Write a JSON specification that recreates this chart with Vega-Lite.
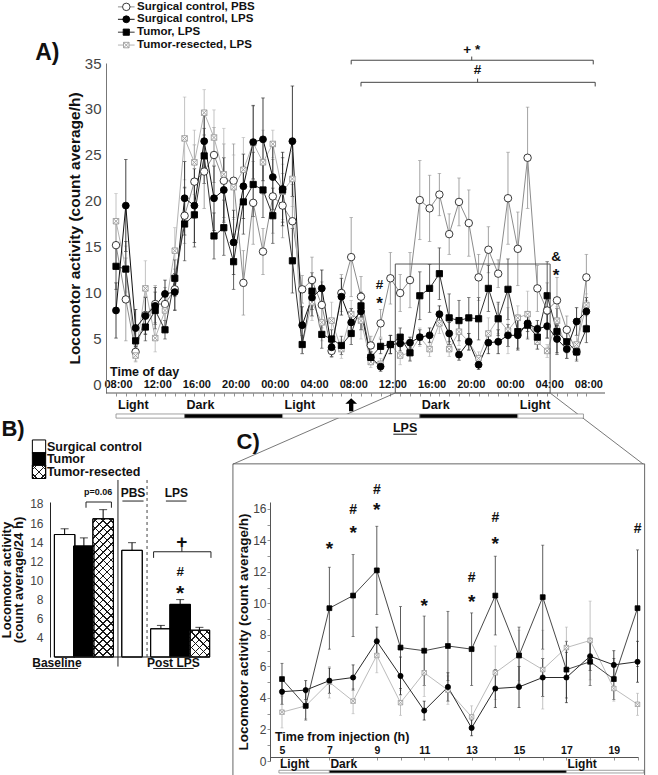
{
"$schema": "https://vega.github.io/schema/vega-lite/v6.json",
"background": "#ffffff",
"padding": 0,
"config": {"view": {"stroke": null}, "font": "Liberation Sans", "axis": {"grid": false, "labelOverlap": false, "tickCount": 100, "format": "d"}},
"bounds": "flush",
"spacing": 109,
"resolve": {"scale": {"size": "independent"}},
"datasets": {
"A": [
{"s":"pbs","h":0,"v":15.2,"e":2.5},{"s":"pbs","h":1,"v":9.3,"e":4.5},{"s":"pbs","h":2,"v":3.6,"e":1.0},{"s":"pbs","h":3,"v":7.6,"e":2.0},{"s":"pbs","h":4,"v":8.8,"e":2.0},{"s":"pbs","h":5,"v":8.8,"e":1.8},{"s":"pbs","h":6,"v":10.4,"e":2.2},{"s":"pbs","h":7,"v":18.4,"e":3.0},{"s":"pbs","h":8,"v":22.1,"e":4.0},{"s":"pbs","h":9,"v":23.2,"e":4.0},{"s":"pbs","h":10,"v":25.0,"e":3.0},{"s":"pbs","h":11,"v":22.2,"e":4.0},{"s":"pbs","h":12,"v":22.2,"e":4.0},{"s":"pbs","h":13,"v":11.1,"e":3.5},{"s":"pbs","h":14,"v":19.8,"e":4.5},{"s":"pbs","h":15,"v":14.5,"e":2.5},{"s":"pbs","h":16,"v":20.5,"e":4.0},{"s":"pbs","h":17,"v":19.5,"e":3.5},{"s":"pbs","h":18,"v":17.8,"e":4.0},{"s":"pbs","h":19,"v":10.4,"e":1.5},{"s":"pbs","h":20,"v":11.4,"e":2.5},{"s":"pbs","h":21,"v":8.7,"e":2.5},{"s":"pbs","h":22,"v":3.7,"e":0.7},{"s":"pbs","h":23,"v":10.0,"e":2.0},{"s":"pbs","h":24,"v":13.9,"e":4.3},{"s":"pbs","h":25,"v":9.6,"e":2.2},{"s":"pbs","h":26,"v":4.3,"e":1.0},{"s":"pbs","h":27,"v":6.7,"e":1.5},{"s":"pbs","h":28,"v":11.6,"e":2.8},{"s":"pbs","h":29,"v":10.0,"e":2.0},{"s":"pbs","h":30,"v":11.4,"e":3.0},{"s":"pbs","h":31,"v":20.1,"e":4.3},{"s":"pbs","h":32,"v":19.2,"e":3.6},{"s":"pbs","h":33,"v":20.7,"e":2.3},{"s":"pbs","h":34,"v":16.4,"e":2.2},{"s":"pbs","h":35,"v":19.9,"e":2.6},{"s":"pbs","h":36,"v":17.6,"e":3.6},{"s":"pbs","h":37,"v":11.7,"e":2.5},{"s":"pbs","h":38,"v":14.7,"e":2.5},{"s":"pbs","h":39,"v":12.1,"e":1.5},{"s":"pbs","h":40,"v":20.3,"e":5.0},{"s":"pbs","h":41,"v":14.8,"e":4.0},{"s":"pbs","h":42,"v":24.7,"e":5.5},{"s":"pbs","h":43,"v":10.5,"e":2.5},{"s":"pbs","h":44,"v":8.1,"e":3.0},{"s":"pbs","h":45,"v":9.2,"e":2.5},{"s":"pbs","h":46,"v":6.0,"e":1.5},{"s":"pbs","h":47,"v":3.6,"e":0.8},{"s":"pbs","h":48,"v":11.7,"e":2.5},
{"s":"rlps","h":0,"v":17.8,"e":3.0},{"s":"rlps","h":1,"v":12.6,"e":2.5},{"s":"rlps","h":2,"v":3.2,"e":0.7},{"s":"rlps","h":3,"v":10.5,"e":3.0},{"s":"rlps","h":4,"v":5.1,"e":1.5},{"s":"rlps","h":5,"v":8.1,"e":2.0},{"s":"rlps","h":6,"v":14.6,"e":2.5},{"s":"rlps","h":7,"v":26.8,"e":4.5},{"s":"rlps","h":8,"v":24.2,"e":3.5},{"s":"rlps","h":9,"v":29.6,"e":2.5},{"s":"rlps","h":10,"v":26.9,"e":3.0},{"s":"rlps","h":11,"v":22.9,"e":5.0},{"s":"rlps","h":12,"v":21.5,"e":3.5},{"s":"rlps","h":13,"v":23.4,"e":3.5},{"s":"rlps","h":14,"v":26.3,"e":4.0},{"s":"rlps","h":15,"v":24.2,"e":3.5},{"s":"rlps","h":16,"v":26.2,"e":1.5},{"s":"rlps","h":17,"v":21.0,"e":3.0},{"s":"rlps","h":18,"v":22.4,"e":3.0},{"s":"rlps","h":19,"v":4.4,"e":1.0},{"s":"rlps","h":20,"v":9.0,"e":2.0},{"s":"rlps","h":21,"v":6.8,"e":2.0},{"s":"rlps","h":22,"v":7.0,"e":2.0},{"s":"rlps","h":23,"v":3.9,"e":1.0},{"s":"rlps","h":24,"v":7.7,"e":1.5},{"s":"rlps","h":25,"v":7.0,"e":2.0},{"s":"rlps","h":26,"v":2.5,"e":0.6},{"s":"rlps","h":27,"v":2.3,"e":0.6},{"s":"rlps","h":28,"v":4.4,"e":1.0},{"s":"rlps","h":29,"v":3.2,"e":1.0},{"s":"rlps","h":30,"v":3.5,"e":0.8},{"s":"rlps","h":31,"v":5.2,"e":1.0},{"s":"rlps","h":32,"v":3.9,"e":0.8},{"s":"rlps","h":33,"v":6.7,"e":1.1},{"s":"rlps","h":34,"v":3.9,"e":0.8},{"s":"rlps","h":35,"v":5.8,"e":1.5},{"s":"rlps","h":36,"v":4.7,"e":0.9},{"s":"rlps","h":37,"v":2.9,"e":0.7},{"s":"rlps","h":38,"v":5.6,"e":1.7},{"s":"rlps","h":39,"v":7.2,"e":1.6},{"s":"rlps","h":40,"v":5.9,"e":2.5},{"s":"rlps","h":41,"v":7.3,"e":1.3},{"s":"rlps","h":42,"v":7.7,"e":2.5},{"s":"rlps","h":43,"v":4.7,"e":0.8},{"s":"rlps","h":44,"v":3.7,"e":0.7},{"s":"rlps","h":45,"v":7.0,"e":1.5},{"s":"rlps","h":46,"v":3.9,"e":1.0},{"s":"rlps","h":47,"v":4.4,"e":1.0},{"s":"rlps","h":48,"v":8.7,"e":1.2},
{"s":"slps","h":0,"v":8.1,"e":3.0},{"s":"slps","h":1,"v":19.5,"e":5.0},{"s":"slps","h":2,"v":6.2,"e":2.0},{"s":"slps","h":3,"v":7.5,"e":2.0},{"s":"slps","h":4,"v":8.6,"e":2.0},{"s":"slps","h":5,"v":9.9,"e":1.5},{"s":"slps","h":6,"v":10.1,"e":2.0},{"s":"slps","h":7,"v":20.3,"e":4.0},{"s":"slps","h":8,"v":19.5,"e":4.0},{"s":"slps","h":9,"v":26.5,"e":3.0},{"s":"slps","h":10,"v":20.3,"e":3.5},{"s":"slps","h":11,"v":21.2,"e":3.5},{"s":"slps","h":12,"v":15.5,"e":3.5},{"s":"slps","h":13,"v":21.6,"e":3.5},{"s":"slps","h":14,"v":26.4,"e":4.0},{"s":"slps","h":15,"v":26.7,"e":4.5},{"s":"slps","h":16,"v":22.6,"e":3.5},{"s":"slps","h":17,"v":21.3,"e":4.0},{"s":"slps","h":18,"v":26.5,"e":6.0},{"s":"slps","h":19,"v":6.5,"e":2.0},{"s":"slps","h":20,"v":9.5,"e":2.0},{"s":"slps","h":21,"v":10.5,"e":2.0},{"s":"slps","h":22,"v":4.1,"e":1.0},{"s":"slps","h":23,"v":9.6,"e":2.0},{"s":"slps","h":24,"v":6.8,"e":1.5},{"s":"slps","h":25,"v":8.0,"e":2.0},{"s":"slps","h":26,"v":3.0,"e":0.6},{"s":"slps","h":27,"v":2.0,"e":0.5},{"s":"slps","h":28,"v":4.4,"e":1.0},{"s":"slps","h":29,"v":4.5,"e":0.8},{"s":"slps","h":30,"v":4.6,"e":0.6},{"s":"slps","h":31,"v":5.2,"e":0.8},{"s":"slps","h":32,"v":5.4,"e":0.8},{"s":"slps","h":33,"v":7.7,"e":0.9},{"s":"slps","h":34,"v":5.6,"e":1.2},{"s":"slps","h":35,"v":3.3,"e":0.6},{"s":"slps","h":36,"v":4.7,"e":0.9},{"s":"slps","h":37,"v":2.2,"e":0.5},{"s":"slps","h":38,"v":4.6,"e":1.2},{"s":"slps","h":39,"v":4.7,"e":1.3},{"s":"slps","h":40,"v":5.4,"e":1.2},{"s":"slps","h":41,"v":5.4,"e":1.6},{"s":"slps","h":42,"v":6.7,"e":0.9},{"s":"slps","h":43,"v":6.1,"e":0.9},{"s":"slps","h":44,"v":6.4,"e":1.3},{"s":"slps","h":45,"v":5.0,"e":1.5},{"s":"slps","h":46,"v":3.9,"e":1.0},{"s":"slps","h":47,"v":6.9,"e":1.5},{"s":"slps","h":48,"v":8.0,"e":1.5},
{"s":"tlps","h":0,"v":12.9,"e":2.5},{"s":"tlps","h":1,"v":12.6,"e":3.0},{"s":"tlps","h":2,"v":4.8,"e":1.0},{"s":"tlps","h":3,"v":6.3,"e":1.5},{"s":"tlps","h":4,"v":8.1,"e":2.0},{"s":"tlps","h":5,"v":6.0,"e":1.0},{"s":"tlps","h":6,"v":11.6,"e":2.0},{"s":"tlps","h":7,"v":17.5,"e":4.0},{"s":"tlps","h":8,"v":18.5,"e":3.5},{"s":"tlps","h":9,"v":24.9,"e":3.0},{"s":"tlps","h":10,"v":16.2,"e":2.5},{"s":"tlps","h":11,"v":17.1,"e":3.0},{"s":"tlps","h":12,"v":13.4,"e":3.0},{"s":"tlps","h":13,"v":19.9,"e":3.5},{"s":"tlps","h":14,"v":21.8,"e":3.5},{"s":"tlps","h":15,"v":21.2,"e":3.0},{"s":"tlps","h":16,"v":18.4,"e":3.0},{"s":"tlps","h":17,"v":21.2,"e":3.5},{"s":"tlps","h":18,"v":13.5,"e":3.5},{"s":"tlps","h":19,"v":4.4,"e":1.0},{"s":"tlps","h":20,"v":10.2,"e":2.0},{"s":"tlps","h":21,"v":5.5,"e":1.5},{"s":"tlps","h":22,"v":5.0,"e":1.0},{"s":"tlps","h":23,"v":4.3,"e":1.0},{"s":"tlps","h":24,"v":5.6,"e":1.2},{"s":"tlps","h":25,"v":8.6,"e":1.5},{"s":"tlps","h":26,"v":3.0,"e":0.6},{"s":"tlps","h":27,"v":4.2,"e":0.8},{"s":"tlps","h":28,"v":4.4,"e":1.0},{"s":"tlps","h":29,"v":5.2,"e":1.0},{"s":"tlps","h":30,"v":3.5,"e":0.9},{"s":"tlps","h":31,"v":9.7,"e":2.6},{"s":"tlps","h":32,"v":10.5,"e":2.6},{"s":"tlps","h":33,"v":12.1,"e":2.8},{"s":"tlps","h":34,"v":7.3,"e":2.6},{"s":"tlps","h":35,"v":7.0,"e":2.2},{"s":"tlps","h":36,"v":7.3,"e":2.2},{"s":"tlps","h":37,"v":7.2,"e":2.3},{"s":"tlps","h":38,"v":10.5,"e":2.5},{"s":"tlps","h":39,"v":7.2,"e":1.8},{"s":"tlps","h":40,"v":10.4,"e":3.3},{"s":"tlps","h":41,"v":5.8,"e":1.8},{"s":"tlps","h":42,"v":6.5,"e":1.5},{"s":"tlps","h":43,"v":5.2,"e":1.3},{"s":"tlps","h":44,"v":9.7,"e":3.7},{"s":"tlps","h":45,"v":5.8,"e":2.5},{"s":"tlps","h":46,"v":4.7,"e":1.2},{"s":"tlps","h":47,"v":3.6,"e":1.0},{"s":"tlps","h":48,"v":6.1,"e":1.5}
],
"C": [
{"s":"rlps","h":5,"v":3.1,"e":1.0},{"s":"rlps","h":6,"v":3.5,"e":0.8},{"s":"rlps","h":7,"v":5.0,"e":1.0},{"s":"rlps","h":8,"v":3.8,"e":0.8},{"s":"rlps","h":9,"v":6.7,"e":1.1},{"s":"rlps","h":10,"v":3.7,"e":0.8},{"s":"rlps","h":11,"v":5.6,"e":1.5},{"s":"rlps","h":12,"v":4.5,"e":0.9},{"s":"rlps","h":13,"v":2.8,"e":0.7},{"s":"rlps","h":14,"v":5.6,"e":1.7},{"s":"rlps","h":15,"v":6.7,"e":1.6},{"s":"rlps","h":16,"v":5.8,"e":2.5},{"s":"rlps","h":17,"v":7.2,"e":1.3},{"s":"rlps","h":18,"v":7.65,"e":2.5},{"s":"rlps","h":19,"v":4.6,"e":0.8},{"s":"rlps","h":20,"v":3.6,"e":0.7},
{"s":"slps","h":5,"v":4.4,"e":0.8},{"s":"slps","h":6,"v":4.5,"e":0.6},{"s":"slps","h":7,"v":5.1,"e":0.8},{"s":"slps","h":8,"v":5.3,"e":0.8},{"s":"slps","h":9,"v":7.6,"e":0.9},{"s":"slps","h":10,"v":5.4,"e":1.2},{"s":"slps","h":11,"v":3.2,"e":0.6},{"s":"slps","h":12,"v":4.7,"e":0.9},{"s":"slps","h":13,"v":2.1,"e":0.5},{"s":"slps","h":14,"v":4.6,"e":1.2},{"s":"slps","h":15,"v":4.7,"e":1.3},{"s":"slps","h":16,"v":5.3,"e":1.2},{"s":"slps","h":17,"v":5.3,"e":1.6},{"s":"slps","h":18,"v":6.65,"e":0.9},{"s":"slps","h":19,"v":6.1,"e":0.9},{"s":"slps","h":20,"v":6.3,"e":1.3},
{"s":"tlps","h":5,"v":5.2,"e":1.0},{"s":"tlps","h":6,"v":3.5,"e":0.9},{"s":"tlps","h":7,"v":9.7,"e":2.6},{"s":"tlps","h":8,"v":10.5,"e":2.6},{"s":"tlps","h":9,"v":12.1,"e":2.8},{"s":"tlps","h":10,"v":7.2,"e":2.6},{"s":"tlps","h":11,"v":7.0,"e":2.2},{"s":"tlps","h":12,"v":7.3,"e":2.2},{"s":"tlps","h":13,"v":7.1,"e":2.3},{"s":"tlps","h":14,"v":10.5,"e":2.5},{"s":"tlps","h":15,"v":6.7,"e":1.8},{"s":"tlps","h":16,"v":10.4,"e":3.3},{"s":"tlps","h":17,"v":5.8,"e":1.8},{"s":"tlps","h":18,"v":6.3,"e":1.5},{"s":"tlps","h":19,"v":5.2,"e":1.3},{"s":"tlps","h":20,"v":9.7,"e":3.7}
],
"legA": [{"s":"pbs","t":"Surgical control, PBS","v":41.1},{"s":"slps","t":"Surgical control, LPS","v":39.75},{"s":"tlps","t":"Tumor, LPS","v":38.35},{"s":"rlps","t":"Tumor-resected, LPS","v":36.95}],
"ldA": [{"a":0,"b":7,"f":"w","t":"Light"},{"a":7,"b":17,"f":"k","t":"Dark"},{"a":17,"b":31,"f":"w","t":"Light"},{"a":31,"b":41,"f":"k","t":"Dark"},{"a":41,"b":47.7,"f":"w","t":"Light"}],
"ldC": [{"a":4.87,"b":7,"f":"w","t":"Light"},{"a":7,"b":17,"f":"k","t":"Dark"},{"a":17,"b":20.27,"f":"w","t":"Light"}],
"sigA": [{"h":26.9,"v":10.87,"t":"#"},{"h":26.9,"v":9.18,"t":"*"},{"h":44.9,"v":13.9,"t":"&"},{"h":44.9,"v":12.2,"t":"*"},{"h":36.3,"v":36.4,"t":"+ *"},{"h":36.9,"v":34.2,"t":"#"}],
"sigC": [{"h":7,"v":13.7,"t":"*"},{"h":8,"v":15.94,"t":"#"},{"h":8,"v":14.7,"t":"*"},{"h":9,"v":17.2,"t":"#"},{"h":9,"v":16.2,"t":"*"},{"h":11,"v":10.1,"t":"*"},{"h":13,"v":11.6,"t":"#"},{"h":13,"v":10.35,"t":"*"},{"h":14,"v":15.4,"t":"#"},{"h":14,"v":14.05,"t":"*"},{"h":20,"v":14.7,"t":"#"}],
"brA": [{"x1":24,"y1":35.3,"x2":48.7,"y2":35.3},{"x1":24,"y1":35.3,"x2":24,"y2":34.85},{"x1":48.7,"y1":35.3,"x2":48.7,"y2":34.85},{"x1":36.3,"y1":35.3,"x2":36.3,"y2":35.7},{"x1":25,"y1":32.9,"x2":48.9,"y2":32.9},{"x1":25,"y1":32.9,"x2":25,"y2":32.45},{"x1":48.9,"y1":32.9,"x2":48.9,"y2":32.45},{"x1":36.9,"y1":32.9,"x2":36.9,"y2":33.3}],
"B": [
{"g":"Baseline","c":"Surgical control","pos":0.5,"v":14.8,"hi":15.4},
{"g":"Baseline","c":"Tumor","pos":1.5,"v":13.6,"hi":14.45},
{"g":"Baseline","c":"Tumor-resected","pos":2.5,"v":16.45,"hi":17.4},
{"g":"PBS","c":"Surgical control","pos":4,"v":13.15,"hi":13.95},
{"g":"LPS","c":"Surgical control","pos":5.5,"v":4.95,"hi":5.3},
{"g":"LPS","c":"Tumor","pos":6.5,"v":7.5,"hi":8.0},
{"g":"LPS","c":"Tumor-resected","pos":7.5,"v":4.8,"hi":5.1}
],
"legB": [{"c":"Surgical control","v":23.99},{"c":"Tumor","v":22.67},{"c":"Tumor-resected","v":21.35}],
"brB": [{"x1":1.61,"y1":18.2,"x2":2.93,"y2":18.2},{"x1":1.61,"y1":18.2,"x2":1.61,"y2":17.6},{"x1":2.93,"y1":18.2,"x2":2.93,"y2":17.6},{"x1":5.12,"y1":13.0,"x2":8.1,"y2":13.0},{"x1":5.12,"y1":13.0,"x2":5.12,"y2":12.36},{"x1":8.1,"y1":13.0,"x2":8.1,"y2":12.36},{"x1":6.59,"y1":13.0,"x2":6.59,"y2":13.5},{"x1":3.5,"y1":18.3,"x2":4.6,"y2":18.3},{"x1":5.76,"y1":18.3,"x2":6.83,"y2":18.3},{"x1":3.27,"y1":20.5,"x2":3.27,"y2":1.0},{"x1":-1.0,"y1":0.8,"x2":1.2,"y2":0.8},{"x1":5.1,"y1":0.8,"x2":7.2,"y2":0.8}],
"txtB": [{"p":4.05,"v":19.1,"t":"PBS"},{"p":6.3,"v":19.1,"t":"LPS"},{"p":0.1,"v":1.4,"t":"Baseline"},{"p":6.15,"v":1.4,"t":"Post LPS"}]
},
"vconcat": [
{
"width": 555, "height": 330,
"layer": [
{"data": {"name": "A"},
 "mark": {"type": "line", "strokeWidth": 1},
 "encoding": {
  "x": {"field": "h", "type": "quantitative", "scale": {"domain": [-6.735, 49.9], "nice": false, "zero": false},
        "axis": {"values": [0,1,2,3,4,5,6,7,8,9,10,11,12,13,14,15,16,17,18,19,20,21,22,23,24,25,26,27,28,29,30,31,32,33,34,35,36,37,38,39,40,41,42,43,44,45,46,47,48], "tickCount": 100,
                 "labelExpr": "datum.value % 4 == 0 ? ['08:00','12:00','16:00','20:00','00:00','04:00'][(datum.value / 4) % 6] : ''",
                 "domain": false, "tickSize": 3, "tickColor": "#777", "tickWidth": 0.8,
                 "labelFontSize": 11, "labelFontWeight": "bold", "labelColor": "#111", "labelBaseline": "bottom", "labelPadding": -7,
                 "labelOverlap": false, "labelFlush": false, "labelOffset": 2, "title": null}},
  "y": {"field": "v", "type": "quantitative", "title": "Locomotor activity (count average/h)", "scale": {"domain": [-0.87, 35], "nice": false, "zero": false},
        "axis": {"values": [0,5,10,15,20,25,30,35], "tickCount": 100, "format": "d", "offset": -56, "domainColor": "#777", "ticks": false, "labelOverlap": false,
                 "labelFontSize": 15, "labelColor": "#444", "labelPadding": 5,
                 "titleFontSize": 15.5, "titleFontWeight": "bold", "titleColor": "#111", "titlePadding": 2}},
  "color": {"field": "s", "type": "nominal", "scale": {"domain": ["pbs","slps","tlps","rlps"], "range": ["#8c8c8c","#111111","#333333","#b3b3b3"]}, "legend": null}
 }},
{"data": {"name": "A"},
 "mark": {"type": "errorbar", "ticks": {"size": 3.5}, "thickness": 0.8},
 "encoding": {"x": {"field": "h", "type": "quantitative", "title": null}, "y": {"field": "v", "type": "quantitative", "title": "Locomotor activity (count average/h)"}, "yError": {"field": "e"},
  "color": {"field": "s", "type": "nominal", "legend": null}}},
{"data": {"name": "A"},
 "mark": {"type": "point", "filled": true, "opacity": 1, "strokeWidth": 0.9},
 "encoding": {"x": {"field": "h", "type": "quantitative"}, "y": {"field": "v", "type": "quantitative"},
  "shape": {"field": "s", "type": "nominal", "scale": {"domain": ["pbs","slps","tlps","rlps"], "range": ["circle","circle","square","M-1,-1L1,-1L1,1L-1,1ZM-1,-1L1,1M1,-1L-1,1"]}, "legend": null},
  "fill": {"field": "s", "type": "nominal", "scale": {"domain": ["pbs","slps","tlps","rlps"], "range": ["#ffffff","#000000","#000000","#ffffff"]}, "legend": null},
  "stroke": {"field": "s", "type": "nominal", "scale": {"domain": ["pbs","slps","tlps","rlps"], "range": ["#222222","#000000","#000000","#9a9a9a"]}, "legend": null},
  "size": {"field": "s", "type": "nominal", "scale": {"domain": ["pbs","slps","tlps","rlps"], "range": [56,30,56,56]}, "legend": null}}},
{"data": {"values": [{}]}, "mark": {"type": "rule", "color": "#555", "strokeWidth": 1},
 "encoding": {"x": {"datum": -1.0}, "x2": {"datum": 49.9}, "y": {"datum": -0.87}}},
{"data": {"values": [{}]}, "mark": {"type": "rect", "fillOpacity": 0, "stroke": "#555", "strokeWidth": 1},
 "encoding": {"x": {"datum": 28.5}, "x2": {"datum": 44.3}, "y": {"datum": -0.87}, "y2": {"datum": 13.15}}},
{"data": {"values": [{}]}, "mark": {"type": "rule", "color": "#555", "strokeWidth": 0.8},
 "encoding": {"x": {"datum": 28.5}, "y": {"datum": -0.87}, "x2": {"datum": 11.94}, "y2": {"datum": -8.6}}},
{"data": {"values": [{}]}, "mark": {"type": "rule", "color": "#555", "strokeWidth": 0.8},
 "encoding": {"x": {"datum": 44.3}, "y": {"datum": -0.87}, "x2": {"datum": 53.8}, "y2": {"datum": -8.6}}},
{"data": {"name": "brA"}, "mark": {"type": "rule", "color": "#444", "strokeWidth": 1},
 "encoding": {"x": {"field": "x1", "type": "quantitative"}, "y": {"field": "y1", "type": "quantitative"}, "x2": {"field": "x2"}, "y2": {"field": "y2"}}},
{"data": {"name": "sigA"}, "transform": [{"filter": "datum.t == '*'"}],
 "mark": {"type": "text", "fontSize": 17, "fontWeight": "bold", "color": "#111", "baseline": "middle", "dy": 3.5},
 "encoding": {"x": {"field": "h", "type": "quantitative"}, "y": {"field": "v", "type": "quantitative"}, "text": {"field": "t"}}},
{"data": {"name": "sigA"}, "transform": [{"filter": "datum.t != '*'"}],
 "mark": {"type": "text", "fontSize": 13.5, "fontWeight": "bold", "color": "#111", "baseline": "middle"},
 "encoding": {"x": {"field": "h", "type": "quantitative"}, "y": {"field": "v", "type": "quantitative"}, "text": {"field": "t"}}},
{"data": {"name": "legA"}, "mark": {"type": "rule", "strokeWidth": 1},
 "encoding": {"x": {"datum": 0.2}, "x2": {"datum": 1.9}, "y": {"field": "v", "type": "quantitative"}, "color": {"field": "s", "type": "nominal", "legend": null}}},
{"data": {"name": "legA"}, "mark": {"type": "point", "filled": true, "opacity": 1, "strokeWidth": 0.9},
 "encoding": {"x": {"datum": 1.05}, "y": {"field": "v", "type": "quantitative"},
  "shape": {"field": "s", "type": "nominal", "legend": null}, "fill": {"field": "s", "type": "nominal", "legend": null},
  "stroke": {"field": "s", "type": "nominal", "legend": null}, "size": {"field": "s", "type": "nominal", "legend": null}}},
{"data": {"name": "legA"}, "mark": {"type": "text", "align": "left", "baseline": "middle", "fontSize": 11.5, "fontWeight": "bold", "color": "#111"},
 "encoding": {"x": {"datum": 2.15}, "y": {"field": "v", "type": "quantitative"}, "text": {"field": "t"}}},
{"data": {"values": [{}]}, "mark": {"type": "text", "text": "A)", "fontSize": 23, "fontWeight": "bold", "color": "#111", "baseline": "middle"},
 "encoding": {"x": {"datum": -7.0}, "y": {"datum": 36.1}}},
{"data": {"values": [{}]}, "mark": {"type": "text", "text": "Time of day", "align": "left", "fontSize": 12.5, "fontWeight": "bold", "color": "#111", "baseline": "middle"},
 "encoding": {"x": {"datum": -0.61}, "y": {"datum": 1.41}}},
{"data": {"name": "ldA"}, "mark": {"type": "rect", "stroke": "#888", "strokeWidth": 0.8},
 "encoding": {"x": {"field": "a", "type": "quantitative"}, "x2": {"field": "b"}, "y": {"datum": -3.15}, "y2": {"datum": -3.6},
  "fill": {"condition": {"test": "datum.f == 'k'", "value": "#000000"}, "value": "#ffffff"}}},
{"data": {"name": "ldA"}, "mark": {"type": "text", "align": "left", "baseline": "middle", "fontSize": 12.5, "fontWeight": "bold", "color": "#111", "dx": 2},
 "encoding": {"x": {"field": "a", "type": "quantitative"}, "y": {"datum": -2.17}, "text": {"field": "t"}}},
{"data": {"values": [{}]}, "mark": {"type": "point", "shape": "M0,-1L0.9,-0.15L0.33,-0.15L0.33,1L-0.33,1L-0.33,-0.15L-0.9,-0.15Z", "size": 170, "filled": true, "color": "#000", "opacity": 1},
 "encoding": {"x": {"datum": 24}, "y": {"datum": -2.15}}},
{"data": {"values": [{}]}, "mark": {"type": "text", "text": "LPS", "fontSize": 12.5, "fontWeight": "bold", "color": "#111", "baseline": "middle"},
 "encoding": {"x": {"datum": 29.5}, "y": {"datum": -4.67}}},
{"data": {"values": [{}]}, "mark": {"type": "rule", "color": "#111", "strokeWidth": 1},
 "encoding": {"x": {"datum": 28.3}, "x2": {"datum": 30.7}, "y": {"datum": -5.35}}}
]
},
{
"hconcat": [
{
"width": 165, "height": 155,
"layer": [
{"data": {"name": "B"},
 "mark": {"type": "bar", "width": 20.5, "stroke": "#000", "strokeWidth": 1},
 "encoding": {
  "x": {"field": "pos", "type": "quantitative", "scale": {"domain": [0, 8.05], "nice": false, "zero": false}, "axis": null},
  "y": {"field": "v", "type": "quantitative", "scale": {"domain": [2, 18.2], "nice": false, "zero": false},
        "axis": {"values": [4,6,8,10,12,14,16,18], "tickCount": 100, "format": "d", "labelOverlap": false, "domainColor": "#222", "ticks": false, "labelFontSize": 12, "labelColor": "#444", "labelPadding": 7,
                 "title": ["Locomotor activity", "(count average/24 h)"], "titleFontSize": 13, "titleFontWeight": "bold", "titleColor": "#111", "titleLineHeight": 12, "titlePadding": 4}},
  "y2": {"datum": 2},
  "fill": {"condition": {"test": "datum.c == 'Tumor'", "value": "#000000"}, "value": "#ffffff"}}},
{"data": {"name": "B"}, "transform": [{"filter": "datum.c == 'Tumor-resected' && datum.g == 'Baseline'"}],
 "mark": {"type": "bar", "width": 20.5, "strokeWidth": 0, "fill": {"gradient": "linear", "x1": 0, "y1": 0, "x2": 0.167, "y2": 1.124, "stops": [
 {"offset":0,"color":"rgba(0,0,0,0)"},
 {"offset":0.02,"color":"rgba(0,0,0,0)"},{"offset":0.02,"color":"#1a1a1a"},{"offset":0.03,"color":"#1a1a1a"},{"offset":0.03,"color":"rgba(0,0,0,0)"},
 {"offset":0.07,"color":"rgba(0,0,0,0)"},{"offset":0.07,"color":"#1a1a1a"},{"offset":0.08,"color":"#1a1a1a"},{"offset":0.08,"color":"rgba(0,0,0,0)"},
 {"offset":0.12,"color":"rgba(0,0,0,0)"},{"offset":0.12,"color":"#1a1a1a"},{"offset":0.13,"color":"#1a1a1a"},{"offset":0.13,"color":"rgba(0,0,0,0)"},
 {"offset":0.17,"color":"rgba(0,0,0,0)"},{"offset":0.17,"color":"#1a1a1a"},{"offset":0.18,"color":"#1a1a1a"},{"offset":0.18,"color":"rgba(0,0,0,0)"},
 {"offset":0.22,"color":"rgba(0,0,0,0)"},{"offset":0.22,"color":"#1a1a1a"},{"offset":0.23,"color":"#1a1a1a"},{"offset":0.23,"color":"rgba(0,0,0,0)"},
 {"offset":0.27,"color":"rgba(0,0,0,0)"},{"offset":0.27,"color":"#1a1a1a"},{"offset":0.28,"color":"#1a1a1a"},{"offset":0.28,"color":"rgba(0,0,0,0)"},
 {"offset":0.32,"color":"rgba(0,0,0,0)"},{"offset":0.32,"color":"#1a1a1a"},{"offset":0.33,"color":"#1a1a1a"},{"offset":0.33,"color":"rgba(0,0,0,0)"},
 {"offset":0.37,"color":"rgba(0,0,0,0)"},{"offset":0.37,"color":"#1a1a1a"},{"offset":0.38,"color":"#1a1a1a"},{"offset":0.38,"color":"rgba(0,0,0,0)"},
 {"offset":0.42,"color":"rgba(0,0,0,0)"},{"offset":0.42,"color":"#1a1a1a"},{"offset":0.43,"color":"#1a1a1a"},{"offset":0.43,"color":"rgba(0,0,0,0)"},
 {"offset":0.47,"color":"rgba(0,0,0,0)"},{"offset":0.47,"color":"#1a1a1a"},{"offset":0.48,"color":"#1a1a1a"},{"offset":0.48,"color":"rgba(0,0,0,0)"},
 {"offset":0.52,"color":"rgba(0,0,0,0)"},{"offset":0.52,"color":"#1a1a1a"},{"offset":0.53,"color":"#1a1a1a"},{"offset":0.53,"color":"rgba(0,0,0,0)"},
 {"offset":0.57,"color":"rgba(0,0,0,0)"},{"offset":0.57,"color":"#1a1a1a"},{"offset":0.58,"color":"#1a1a1a"},{"offset":0.58,"color":"rgba(0,0,0,0)"},
 {"offset":0.62,"color":"rgba(0,0,0,0)"},{"offset":0.62,"color":"#1a1a1a"},{"offset":0.63,"color":"#1a1a1a"},{"offset":0.63,"color":"rgba(0,0,0,0)"},
 {"offset":0.67,"color":"rgba(0,0,0,0)"},{"offset":0.67,"color":"#1a1a1a"},{"offset":0.68,"color":"#1a1a1a"},{"offset":0.68,"color":"rgba(0,0,0,0)"},
 {"offset":0.72,"color":"rgba(0,0,0,0)"},{"offset":0.72,"color":"#1a1a1a"},{"offset":0.73,"color":"#1a1a1a"},{"offset":0.73,"color":"rgba(0,0,0,0)"},
 {"offset":0.77,"color":"rgba(0,0,0,0)"},{"offset":0.77,"color":"#1a1a1a"},{"offset":0.78,"color":"#1a1a1a"},{"offset":0.78,"color":"rgba(0,0,0,0)"},
 {"offset":0.82,"color":"rgba(0,0,0,0)"},{"offset":0.82,"color":"#1a1a1a"},{"offset":0.83,"color":"#1a1a1a"},{"offset":0.83,"color":"rgba(0,0,0,0)"},
 {"offset":0.87,"color":"rgba(0,0,0,0)"},{"offset":0.87,"color":"#1a1a1a"},{"offset":0.88,"color":"#1a1a1a"},{"offset":0.88,"color":"rgba(0,0,0,0)"},
 {"offset":0.92,"color":"rgba(0,0,0,0)"},{"offset":0.92,"color":"#1a1a1a"},{"offset":0.93,"color":"#1a1a1a"},{"offset":0.93,"color":"rgba(0,0,0,0)"},
 {"offset":0.97,"color":"rgba(0,0,0,0)"},{"offset":0.97,"color":"#1a1a1a"},{"offset":0.98,"color":"#1a1a1a"},{"offset":0.98,"color":"rgba(0,0,0,0)"},
 {"offset":1,"color":"rgba(0,0,0,0)"}]}},
 "encoding": {"x": {"field": "pos", "type": "quantitative"}, "y": {"field": "v", "type": "quantitative"}, "y2": {"datum": 2}}},
{"data": {"name": "B"}, "transform": [{"filter": "datum.c == 'Tumor-resected' && datum.g == 'Baseline'"}],
 "mark": {"type": "bar", "width": 20.5, "strokeWidth": 0, "fill": {"gradient": "linear", "x1": 1, "y1": 0, "x2": 0.833, "y2": 1.124, "stops": [
 {"offset":0,"color":"rgba(0,0,0,0)"},
 {"offset":0.02,"color":"rgba(0,0,0,0)"},{"offset":0.02,"color":"#1a1a1a"},{"offset":0.03,"color":"#1a1a1a"},{"offset":0.03,"color":"rgba(0,0,0,0)"},
 {"offset":0.07,"color":"rgba(0,0,0,0)"},{"offset":0.07,"color":"#1a1a1a"},{"offset":0.08,"color":"#1a1a1a"},{"offset":0.08,"color":"rgba(0,0,0,0)"},
 {"offset":0.12,"color":"rgba(0,0,0,0)"},{"offset":0.12,"color":"#1a1a1a"},{"offset":0.13,"color":"#1a1a1a"},{"offset":0.13,"color":"rgba(0,0,0,0)"},
 {"offset":0.17,"color":"rgba(0,0,0,0)"},{"offset":0.17,"color":"#1a1a1a"},{"offset":0.18,"color":"#1a1a1a"},{"offset":0.18,"color":"rgba(0,0,0,0)"},
 {"offset":0.22,"color":"rgba(0,0,0,0)"},{"offset":0.22,"color":"#1a1a1a"},{"offset":0.23,"color":"#1a1a1a"},{"offset":0.23,"color":"rgba(0,0,0,0)"},
 {"offset":0.27,"color":"rgba(0,0,0,0)"},{"offset":0.27,"color":"#1a1a1a"},{"offset":0.28,"color":"#1a1a1a"},{"offset":0.28,"color":"rgba(0,0,0,0)"},
 {"offset":0.32,"color":"rgba(0,0,0,0)"},{"offset":0.32,"color":"#1a1a1a"},{"offset":0.33,"color":"#1a1a1a"},{"offset":0.33,"color":"rgba(0,0,0,0)"},
 {"offset":0.37,"color":"rgba(0,0,0,0)"},{"offset":0.37,"color":"#1a1a1a"},{"offset":0.38,"color":"#1a1a1a"},{"offset":0.38,"color":"rgba(0,0,0,0)"},
 {"offset":0.42,"color":"rgba(0,0,0,0)"},{"offset":0.42,"color":"#1a1a1a"},{"offset":0.43,"color":"#1a1a1a"},{"offset":0.43,"color":"rgba(0,0,0,0)"},
 {"offset":0.47,"color":"rgba(0,0,0,0)"},{"offset":0.47,"color":"#1a1a1a"},{"offset":0.48,"color":"#1a1a1a"},{"offset":0.48,"color":"rgba(0,0,0,0)"},
 {"offset":0.52,"color":"rgba(0,0,0,0)"},{"offset":0.52,"color":"#1a1a1a"},{"offset":0.53,"color":"#1a1a1a"},{"offset":0.53,"color":"rgba(0,0,0,0)"},
 {"offset":0.57,"color":"rgba(0,0,0,0)"},{"offset":0.57,"color":"#1a1a1a"},{"offset":0.58,"color":"#1a1a1a"},{"offset":0.58,"color":"rgba(0,0,0,0)"},
 {"offset":0.62,"color":"rgba(0,0,0,0)"},{"offset":0.62,"color":"#1a1a1a"},{"offset":0.63,"color":"#1a1a1a"},{"offset":0.63,"color":"rgba(0,0,0,0)"},
 {"offset":0.67,"color":"rgba(0,0,0,0)"},{"offset":0.67,"color":"#1a1a1a"},{"offset":0.68,"color":"#1a1a1a"},{"offset":0.68,"color":"rgba(0,0,0,0)"},
 {"offset":0.72,"color":"rgba(0,0,0,0)"},{"offset":0.72,"color":"#1a1a1a"},{"offset":0.73,"color":"#1a1a1a"},{"offset":0.73,"color":"rgba(0,0,0,0)"},
 {"offset":0.77,"color":"rgba(0,0,0,0)"},{"offset":0.77,"color":"#1a1a1a"},{"offset":0.78,"color":"#1a1a1a"},{"offset":0.78,"color":"rgba(0,0,0,0)"},
 {"offset":0.82,"color":"rgba(0,0,0,0)"},{"offset":0.82,"color":"#1a1a1a"},{"offset":0.83,"color":"#1a1a1a"},{"offset":0.83,"color":"rgba(0,0,0,0)"},
 {"offset":0.87,"color":"rgba(0,0,0,0)"},{"offset":0.87,"color":"#1a1a1a"},{"offset":0.88,"color":"#1a1a1a"},{"offset":0.88,"color":"rgba(0,0,0,0)"},
 {"offset":0.92,"color":"rgba(0,0,0,0)"},{"offset":0.92,"color":"#1a1a1a"},{"offset":0.93,"color":"#1a1a1a"},{"offset":0.93,"color":"rgba(0,0,0,0)"},
 {"offset":0.97,"color":"rgba(0,0,0,0)"},{"offset":0.97,"color":"#1a1a1a"},{"offset":0.98,"color":"#1a1a1a"},{"offset":0.98,"color":"rgba(0,0,0,0)"},
 {"offset":1,"color":"rgba(0,0,0,0)"}]}},
 "encoding": {"x": {"field": "pos", "type": "quantitative"}, "y": {"field": "v", "type": "quantitative"}, "y2": {"datum": 2}}},
{"data": {"name": "B"}, "transform": [{"filter": "datum.c == 'Tumor-resected' && datum.g == 'LPS'"}],
 "mark": {"type": "bar", "width": 20.5, "strokeWidth": 0, "fill": {"gradient": "linear", "x1": 0, "y1": 0, "x2": 0.852, "y2": 1.114, "stops": [
 {"offset":0,"color":"rgba(0,0,0,0)"},
 {"offset":0.066,"color":"rgba(0,0,0,0)"},{"offset":0.066,"color":"#1a1a1a"},{"offset":0.1,"color":"#1a1a1a"},{"offset":0.1,"color":"rgba(0,0,0,0)"},
 {"offset":0.233,"color":"rgba(0,0,0,0)"},{"offset":0.233,"color":"#1a1a1a"},{"offset":0.267,"color":"#1a1a1a"},{"offset":0.267,"color":"rgba(0,0,0,0)"},
 {"offset":0.4,"color":"rgba(0,0,0,0)"},{"offset":0.4,"color":"#1a1a1a"},{"offset":0.434,"color":"#1a1a1a"},{"offset":0.434,"color":"rgba(0,0,0,0)"},
 {"offset":0.566,"color":"rgba(0,0,0,0)"},{"offset":0.566,"color":"#1a1a1a"},{"offset":0.6,"color":"#1a1a1a"},{"offset":0.6,"color":"rgba(0,0,0,0)"},
 {"offset":0.733,"color":"rgba(0,0,0,0)"},{"offset":0.733,"color":"#1a1a1a"},{"offset":0.767,"color":"#1a1a1a"},{"offset":0.767,"color":"rgba(0,0,0,0)"},
 {"offset":0.9,"color":"rgba(0,0,0,0)"},{"offset":0.9,"color":"#1a1a1a"},{"offset":0.934,"color":"#1a1a1a"},{"offset":0.934,"color":"rgba(0,0,0,0)"},
 {"offset":1,"color":"rgba(0,0,0,0)"}]}},
 "encoding": {"x": {"field": "pos", "type": "quantitative"}, "y": {"field": "v", "type": "quantitative"}, "y2": {"datum": 2}}},
{"data": {"name": "B"}, "transform": [{"filter": "datum.c == 'Tumor-resected' && datum.g == 'LPS'"}],
 "mark": {"type": "bar", "width": 20.5, "strokeWidth": 0, "fill": {"gradient": "linear", "x1": 1, "y1": 0, "x2": 0.148, "y2": 1.114, "stops": [
 {"offset":0,"color":"rgba(0,0,0,0)"},
 {"offset":0.066,"color":"rgba(0,0,0,0)"},{"offset":0.066,"color":"#1a1a1a"},{"offset":0.1,"color":"#1a1a1a"},{"offset":0.1,"color":"rgba(0,0,0,0)"},
 {"offset":0.233,"color":"rgba(0,0,0,0)"},{"offset":0.233,"color":"#1a1a1a"},{"offset":0.267,"color":"#1a1a1a"},{"offset":0.267,"color":"rgba(0,0,0,0)"},
 {"offset":0.4,"color":"rgba(0,0,0,0)"},{"offset":0.4,"color":"#1a1a1a"},{"offset":0.434,"color":"#1a1a1a"},{"offset":0.434,"color":"rgba(0,0,0,0)"},
 {"offset":0.566,"color":"rgba(0,0,0,0)"},{"offset":0.566,"color":"#1a1a1a"},{"offset":0.6,"color":"#1a1a1a"},{"offset":0.6,"color":"rgba(0,0,0,0)"},
 {"offset":0.733,"color":"rgba(0,0,0,0)"},{"offset":0.733,"color":"#1a1a1a"},{"offset":0.767,"color":"#1a1a1a"},{"offset":0.767,"color":"rgba(0,0,0,0)"},
 {"offset":0.9,"color":"rgba(0,0,0,0)"},{"offset":0.9,"color":"#1a1a1a"},{"offset":0.934,"color":"#1a1a1a"},{"offset":0.934,"color":"rgba(0,0,0,0)"},
 {"offset":1,"color":"rgba(0,0,0,0)"}]}},
 "encoding": {"x": {"field": "pos", "type": "quantitative"}, "y": {"field": "v", "type": "quantitative"}, "y2": {"datum": 2}}},
{"data": {"name": "B"}, "mark": {"type": "bar", "width": 20.5, "fillOpacity": 0, "stroke": "#000", "strokeWidth": 1},
 "encoding": {"x": {"field": "pos", "type": "quantitative"}, "y": {"field": "v", "type": "quantitative"}, "y2": {"datum": 2}}},
{"data": {"name": "B"}, "mark": {"type": "rule", "color": "#000", "strokeWidth": 1},
 "encoding": {"x": {"field": "pos", "type": "quantitative"}, "y": {"field": "v", "type": "quantitative"}, "y2": {"field": "hi"}}},
{"data": {"name": "B"}, "mark": {"type": "tick", "orient": "horizontal", "size": 8, "thickness": 1, "color": "#000"},
 "encoding": {"x": {"field": "pos", "type": "quantitative"}, "y": {"field": "hi", "type": "quantitative"}}},
{"data": {"values": [{}]}, "mark": {"type": "rule", "color": "#222", "strokeWidth": 1},
 "encoding": {"x": {"datum": 0}, "x2": {"datum": 8.05}, "y": {"datum": 2}}},
{"data": {"name": "brB"}, "mark": {"type": "rule", "color": "#222", "strokeWidth": 1},
 "encoding": {"x": {"field": "x1", "type": "quantitative"}, "y": {"field": "y1", "type": "quantitative"}, "x2": {"field": "x2"}, "y2": {"field": "y2"}}},
{"data": {"values": [{}]}, "mark": {"type": "rule", "color": "#444", "strokeWidth": 1, "strokeDash": [3, 3]},
 "encoding": {"x": {"datum": 4.78}, "y": {"datum": 20.5}, "y2": {"datum": 2}}},
{"data": {"name": "txtB"}, "mark": {"type": "text", "fontSize": 12, "fontWeight": "bold", "color": "#111", "baseline": "middle"},
 "encoding": {"x": {"field": "p", "type": "quantitative"}, "y": {"field": "v", "type": "quantitative"}, "text": {"field": "t"}}},
{"data": {"values": [{}]}, "mark": {"type": "text", "text": "p=0.06", "fontSize": 9, "fontWeight": "bold", "color": "#111", "baseline": "middle"},
 "encoding": {"x": {"datum": 2.24}, "y": {"datum": 19.26}}},
{"data": {"values": [{}]}, "mark": {"type": "text", "text": "+", "fontSize": 19, "fontWeight": "bold", "color": "#111", "baseline": "middle"},
 "encoding": {"x": {"datum": 6.59}, "y": {"datum": 14.03}}},
{"data": {"values": [{}]}, "mark": {"type": "text", "text": "#", "fontSize": 13.5, "fontWeight": "bold", "color": "#111", "baseline": "middle"},
 "encoding": {"x": {"datum": 6.5}, "y": {"datum": 10.9}}},
{"data": {"values": [{}]}, "mark": {"type": "text", "text": "*", "fontSize": 21, "fontWeight": "bold", "color": "#111", "baseline": "middle", "dy": 4.5},
 "encoding": {"x": {"datum": 6.5}, "y": {"datum": 9.1}}},
{"data": {"values": [{}]}, "mark": {"type": "text", "text": "B)", "align": "left", "fontSize": 22, "fontWeight": "bold", "color": "#111", "baseline": "middle"},
 "encoding": {"x": {"datum": -2.78}, "y": {"datum": 25.84}}},
{"data": {"name": "legB"}, "mark": {"type": "point", "shape": "square", "size": 177, "filled": true, "opacity": 1, "stroke": "#000", "strokeWidth": 1},
 "encoding": {"x": {"datum": -0.83}, "y": {"field": "v", "type": "quantitative"},
  "fill": {"condition": {"test": "datum.c == 'Tumor'", "value": "#000000"}, "value": "#ffffff"}}},
{"data": {"name": "legB"}, "transform": [{"filter": "datum.c == 'Tumor-resected'"}],
 "mark": {"type": "point", "shape": "square", "size": 177, "filled": true, "opacity": 1, "strokeWidth": 0, "fill": {"gradient": "linear", "x1": 0, "y1": 0, "x2": 1, "y2": 1, "stops": [
 {"offset":0,"color":"rgba(0,0,0,0)"},
 {"offset":0.137,"color":"rgba(0,0,0,0)"},{"offset":0.137,"color":"#1a1a1a"},{"offset":0.197,"color":"#1a1a1a"},{"offset":0.197,"color":"rgba(0,0,0,0)"},
 {"offset":0.47,"color":"rgba(0,0,0,0)"},{"offset":0.47,"color":"#1a1a1a"},{"offset":0.53,"color":"#1a1a1a"},{"offset":0.53,"color":"rgba(0,0,0,0)"},
 {"offset":0.803,"color":"rgba(0,0,0,0)"},{"offset":0.803,"color":"#1a1a1a"},{"offset":0.863,"color":"#1a1a1a"},{"offset":0.863,"color":"rgba(0,0,0,0)"},
 {"offset":1,"color":"rgba(0,0,0,0)"}]}},
 "encoding": {"x": {"datum": -0.83}, "y": {"field": "v", "type": "quantitative"}}},
{"data": {"name": "legB"}, "transform": [{"filter": "datum.c == 'Tumor-resected'"}],
 "mark": {"type": "point", "shape": "square", "size": 177, "filled": true, "opacity": 1, "stroke": "#000", "strokeWidth": 1, "fill": {"gradient": "linear", "x1": 1, "y1": 0, "x2": 0, "y2": 1, "stops": [
 {"offset":0,"color":"rgba(0,0,0,0)"},
 {"offset":0.137,"color":"rgba(0,0,0,0)"},{"offset":0.137,"color":"#1a1a1a"},{"offset":0.197,"color":"#1a1a1a"},{"offset":0.197,"color":"rgba(0,0,0,0)"},
 {"offset":0.47,"color":"rgba(0,0,0,0)"},{"offset":0.47,"color":"#1a1a1a"},{"offset":0.53,"color":"#1a1a1a"},{"offset":0.53,"color":"rgba(0,0,0,0)"},
 {"offset":0.803,"color":"rgba(0,0,0,0)"},{"offset":0.803,"color":"#1a1a1a"},{"offset":0.863,"color":"#1a1a1a"},{"offset":0.863,"color":"rgba(0,0,0,0)"},
 {"offset":1,"color":"rgba(0,0,0,0)"}]}},
 "encoding": {"x": {"datum": -0.83}, "y": {"field": "v", "type": "quantitative"}}},
{"data": {"name": "legB"}, "mark": {"type": "text", "align": "left", "baseline": "middle", "fontSize": 12.5, "fontWeight": "bold", "color": "#111"},
 "encoding": {"x": {"datum": -0.42}, "y": {"field": "v", "type": "quantitative"}, "text": {"field": "c"}}}
]
},
{
"width": 368, "height": 259,
"layer": [
{"data": {"name": "C"},
 "mark": {"type": "line", "strokeWidth": 0.9},
 "encoding": {
  "x": {"field": "h", "type": "quantitative", "scale": {"domain": [4.494, 20.02], "nice": false, "zero": false},
        "axis": {"values": [5,6,7,8,9,10,11,12,13,14,15,16,17,18,19,20], "tickCount": 100, "format": "d", "labelExpr": "datum.value % 2 == 1 ? datum.label : ''",
                 "offset": -4, "domainColor": "#555", "tickSize": 3, "tickColor": "#777", "tickWidth": 0.8,
                 "labelFontSize": 10.5, "labelFontWeight": "bold", "labelColor": "#111", "labelBaseline": "bottom", "labelPadding": -5,
                 "labelOverlap": false, "labelFlush": false, "title": null}},
  "y": {"field": "v", "type": "quantitative", "title": "Locomotor activity (count average/h)", "scale": {"domain": [0, 16.44], "nice": false, "zero": false},
        "axis": {"values": [0,1,2,3,4,5,6,7,8,9,10,11,12,13,14,15,16], "tickCount": 100, "format": "d", "labelExpr": "datum.value % 2 == 0 ? datum.label : ''", "labelOverlap": false,
                 "domainColor": "#555", "tickSize": 3, "tickColor": "#777", "tickWidth": 0.8, "labelFontSize": 12, "labelColor": "#444", "labelPadding": 1,
                 "titleFontSize": 13.5, "titleFontWeight": "bold", "titleColor": "#111", "titlePadding": 2}},
  "color": {"field": "s", "type": "nominal", "scale": {"domain": ["pbs","slps","tlps","rlps"], "range": ["#8c8c8c","#111111","#333333","#b3b3b3"]}, "legend": null}
 }},
{"data": {"name": "C"},
 "mark": {"type": "errorbar", "ticks": {"size": 3}, "thickness": 0.8},
 "encoding": {"x": {"field": "h", "type": "quantitative", "title": null}, "y": {"field": "v", "type": "quantitative", "title": "Locomotor activity (count average/h)"}, "yError": {"field": "e"},
  "color": {"field": "s", "type": "nominal", "legend": null}}},
{"data": {"name": "C"},
 "mark": {"type": "point", "filled": true, "opacity": 1, "strokeWidth": 0.8},
 "encoding": {"x": {"field": "h", "type": "quantitative"}, "y": {"field": "v", "type": "quantitative"},
  "shape": {"field": "s", "type": "nominal", "scale": {"domain": ["pbs","slps","tlps","rlps"], "range": ["circle","circle","square","M-1,-1L1,-1L1,1L-1,1ZM-1,-1L1,1M1,-1L-1,1"]}, "legend": null},
  "fill": {"field": "s", "type": "nominal", "scale": {"domain": ["pbs","slps","tlps","rlps"], "range": ["#ffffff","#000000","#000000","#ffffff"]}, "legend": null},
  "stroke": {"field": "s", "type": "nominal", "scale": {"domain": ["pbs","slps","tlps","rlps"], "range": ["#222222","#000000","#000000","#9a9a9a"]}, "legend": null},
  "size": {"field": "s", "type": "nominal", "scale": {"domain": ["pbs","slps","tlps","rlps"], "range": [30,20,26,26]}, "legend": null}}},
{"data": {"name": "sigC"}, "transform": [{"filter": "datum.t == '*'"}],
 "mark": {"type": "text", "fontSize": 19, "fontWeight": "bold", "color": "#111", "baseline": "middle", "dy": 4},
 "encoding": {"x": {"field": "h", "type": "quantitative"}, "y": {"field": "v", "type": "quantitative"}, "text": {"field": "t"}}},
{"data": {"name": "sigC"}, "transform": [{"filter": "datum.t == '#'"}],
 "mark": {"type": "text", "fontSize": 14, "fontWeight": "bold", "color": "#111", "baseline": "middle"},
 "encoding": {"x": {"field": "h", "type": "quantitative"}, "y": {"field": "v", "type": "quantitative"}, "text": {"field": "t"}}},
{"data": {"values": [{}]}, "mark": {"type": "text", "text": "Time from injection (h)", "align": "left", "fontSize": 12.5, "fontWeight": "bold", "color": "#111", "baseline": "middle"},
 "encoding": {"x": {"datum": 4.7}, "y": {"datum": 1.5}}},
{"data": {"name": "ldC"}, "mark": {"type": "rect", "stroke": "#888", "strokeWidth": 0.8},
 "encoding": {"x": {"field": "a", "type": "quantitative"}, "x2": {"field": "b"}, "y": {"datum": -0.59}, "y2": {"datum": -0.76},
  "fill": {"condition": {"test": "datum.f == 'k'", "value": "#000000"}, "value": "#ffffff"}}},
{"data": {"name": "ldC"}, "mark": {"type": "text", "align": "left", "baseline": "middle", "fontSize": 12, "fontWeight": "bold", "color": "#111", "dx": 1},
 "encoding": {"x": {"field": "a", "type": "quantitative"}, "y": {"datum": -0.22}, "text": {"field": "t"}}},
{"data": {"values": [{}]}, "mark": {"type": "rect", "fillOpacity": 0, "stroke": "#666", "strokeWidth": 1},
 "encoding": {"x": {"datum": 2.93}, "x2": {"datum": 20.3}, "y": {"datum": 18.86}, "y2": {"datum": -0.95}}},
{"data": {"values": [{}]}, "mark": {"type": "text", "text": "C)", "fontSize": 22, "fontWeight": "bold", "color": "#111", "baseline": "middle"},
 "encoding": {"x": {"datum": 3.57}, "y": {"datum": 20.25}}}
]
}
],
"spacing": 55,
"bounds": "flush"
}
]
}
